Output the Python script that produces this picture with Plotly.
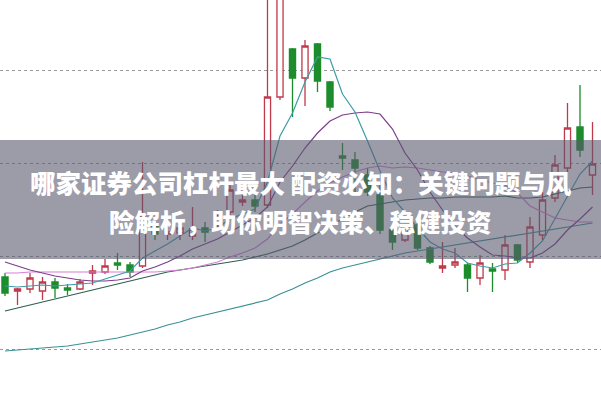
import plotly.graph_objects as go

idx = list(range(48))

open_ = [11.23, 11.09, 11.11, 11.09, 11.18, 11.12, 11.11, 11.27, 11.28, 11.37,
         11.35, 11.34, 11.74, 11.66, 11.67, 11.64, 11.72, 11.74, 11.88, 11.98,
         12.00, 11.95, 13.03, 13.51, 13.22, 13.56, 13.18, 12.44, 12.40, 12.25,
         12.05, 11.70, 11.60, 11.75, 11.52, 11.32, 11.35, 11.35, 11.22, 11.31,
         11.30, 11.55, 11.38, 11.65, 12.02, 12.32, 12.73, 12.25]
high = [11.27, 11.12, 11.27, 11.23, 11.22, 11.16, 11.21, 11.35, 11.41, 11.47,
        11.38, 12.38, 11.78, 11.74, 11.78, 11.93, 11.78, 11.90, 12.15, 12.05,
        12.06, 14.30, 14.40, 13.52, 13.60, 13.57, 13.19, 12.57, 12.48, 12.32,
        12.15, 11.72, 11.76, 11.78, 11.54, 11.58, 11.52, 11.37, 11.45, 11.37,
        11.65, 11.56, 11.83, 12.08, 12.45, 12.97, 13.15, 12.78]
low = [11.04, 10.95, 11.07, 11.00, 11.02, 11.05, 11.10, 11.15, 11.26, 11.30,
       11.23, 11.32, 11.60, 11.60, 11.60, 11.60, 11.58, 11.70, 11.85, 11.94,
       11.88, 11.92, 13.00, 12.83, 12.94, 13.08, 12.89, 12.30, 12.07, 12.04,
       11.66, 11.50, 11.58, 11.50, 11.36, 11.27, 11.32, 11.08, 11.15, 11.08,
       11.20, 11.37, 11.32, 11.60, 11.98, 12.28, 12.43, 12.05]
close = [11.07, 11.11, 11.22, 11.18, 11.12, 11.10, 11.18, 11.29, 11.34, 11.35,
         11.28, 11.84, 11.66, 11.68, 11.72, 11.71, 11.68, 11.82, 12.10, 12.00,
         11.94, 13.03, 14.15, 13.22, 13.54, 13.19, 12.93, 12.42, 12.32, 12.08,
         11.70, 11.58, 11.72, 11.52, 11.38, 11.34, 11.38, 11.22, 11.37, 11.29,
         11.55, 11.40, 11.73, 12.00, 12.35, 12.72, 12.50, 12.36]

ma5 = [11.14, 11.13, 11.14, 11.15, 11.14, 11.15, 11.16, 11.17, 11.21, 11.25,
       11.29, 11.42, 11.49, 11.56, 11.64, 11.72, 11.69, 11.72, 11.81, 11.86,
       11.91, 12.18, 12.64, 12.87, 13.18, 13.43, 13.41, 13.06, 12.88, 12.59,
       12.29, 12.02, 11.88, 11.72, 11.58, 11.51, 11.47, 11.37, 11.34, 11.32,
       11.36, 11.37, 11.47, 11.59, 11.81, 12.04, 12.26, 12.39]
ma10 = [11.38, 11.34, 11.30, 11.27, 11.24, 11.22, 11.20, 11.19, 11.19, 11.20,
        11.22, 11.29, 11.33, 11.38, 11.44, 11.51, 11.56, 11.61, 11.68, 11.75,
        11.82, 11.93, 12.18, 12.34, 12.52, 12.67, 12.79, 12.85, 12.87, 12.88,
        12.86, 12.71, 12.47, 12.30, 12.08, 11.90, 11.74, 11.62, 11.53, 11.45,
        11.44, 11.42, 11.42, 11.47, 11.56, 11.70, 11.81, 11.93]
ma20 = [11.27, 11.27, 11.28, 11.28, 11.28, 11.28, 11.28, 11.28, 11.28, 11.28,
        11.28, 11.28, 11.28, 11.29, 11.30, 11.32, 11.35, 11.38, 11.43, 11.47,
        11.52, 11.61, 11.76, 11.86, 11.98, 12.09, 12.17, 12.23, 12.28, 12.32,
        12.34, 12.32, 12.33, 12.32, 12.30, 12.28, 12.27, 12.24, 12.20, 12.17,
        12.15, 12.07, 11.94, 11.88, 11.82, 11.80, 11.78, 11.78]
ma30 = [10.89, 10.92, 10.95, 10.98, 11.01, 11.04, 11.07, 11.10, 11.13, 11.16,
        11.19, 11.22, 11.25, 11.28, 11.30, 11.32, 11.34, 11.36, 11.38, 11.40,
        11.43, 11.46, 11.50, 11.54, 11.60, 11.67, 11.74, 11.81, 11.88, 11.94,
        11.96, 11.98, 12.00, 12.01, 12.02, 12.02, 12.03, 12.03, 12.03, 12.03,
        12.04, 12.02, 12.02, 12.03, 12.06, 12.09, 12.12, 12.13]
ma60 = [10.49, 10.50, 10.51, 10.52, 10.53, 10.54, 10.56, 10.58, 10.60, 10.62,
        10.65, 10.68, 10.71, 10.75, 10.78, 10.82, 10.85, 10.88, 10.91, 10.94,
        10.97, 11.00, 11.06, 11.11, 11.17, 11.22, 11.28, 11.32, 11.35, 11.38,
        11.41, 11.44, 11.47, 11.49, 11.51, 11.53, 11.55, 11.57, 11.59, 11.61,
        11.63, 11.65, 11.67, 11.69, 11.71, 11.73, 11.75, 11.77]

grid_levels = [10.51, 11.44, 12.37, 13.30]

title_line1 = "哪家证券公司杠杆最大 配资必知：关键问题与风"
title_line2 = "险解析，助你明智决策、稳健投资"

RED = "#c0394b"
GREEN = "#1d8c2c"

fig = go.Figure()
fig.add_trace(go.Candlestick(
    x=idx, open=open_, high=high, low=low, close=close,
    increasing=dict(line=dict(color=RED, width=1.3), fillcolor="white"),
    decreasing=dict(line=dict(color=GREEN, width=1.3), fillcolor=GREEN),
    whiskerwidth=0, showlegend=False, hoverinfo="skip",
))

lines = [
    (ma60, "#3a9096"),
    (ma30, "#2c5f4f"),
    (ma20, "#d67fd6"),
    (ma10, "#7d3c8c"),
    (ma5, "#3d9ca8"),
]
for vals, col in lines:
    fig.add_trace(go.Scatter(x=idx, y=vals, mode="lines",
                             line=dict(color=col, width=1.2),
                             showlegend=False, hoverinfo="skip"))

fig.add_shape(type="rect", xref="paper", yref="paper",
              x0=0, x1=1, y0=1 - 259 / 400, y1=1 - 140 / 400,
              fillcolor="rgba(90,88,110,0.6)", line=dict(width=0),
              layer="above")

font = dict(family="Noto Sans CJK SC", size=25.5, color="white", weight=900)
fig.add_annotation(x=0.5, y=1 - 181 / 400, xref="paper", yref="paper",
                   text=title_line1, showarrow=False, font=font,
                   xanchor="center", yanchor="middle")
fig.add_annotation(x=0.5, y=1 - 220 / 400, xref="paper", yref="paper",
                   text=title_line2, showarrow=False, font=font,
                   xanchor="center", yanchor="middle")

fig.update_layout(
    width=601, height=400,
    margin=dict(l=0, r=0, t=0, b=0),
    paper_bgcolor="white", plot_bgcolor="white",
    xaxis=dict(range=[-0.4, 47.68], showgrid=False, zeroline=False,
               showticklabels=False, rangeslider=dict(visible=False),
               fixedrange=True),
    yaxis=dict(range=[10.0, 14.0], tickvals=grid_levels, showgrid=True,
               gridcolor="#9a9a9a", griddash="dot", gridwidth=1,
               zeroline=False, showticklabels=False, fixedrange=True),
)

fig.write_html(
    "out.html",
    config={"displayModeBar": False},
    post_script="document.body.style.margin='0';document.body.style.padding='0';document.body.style.overflow='hidden';",
)
